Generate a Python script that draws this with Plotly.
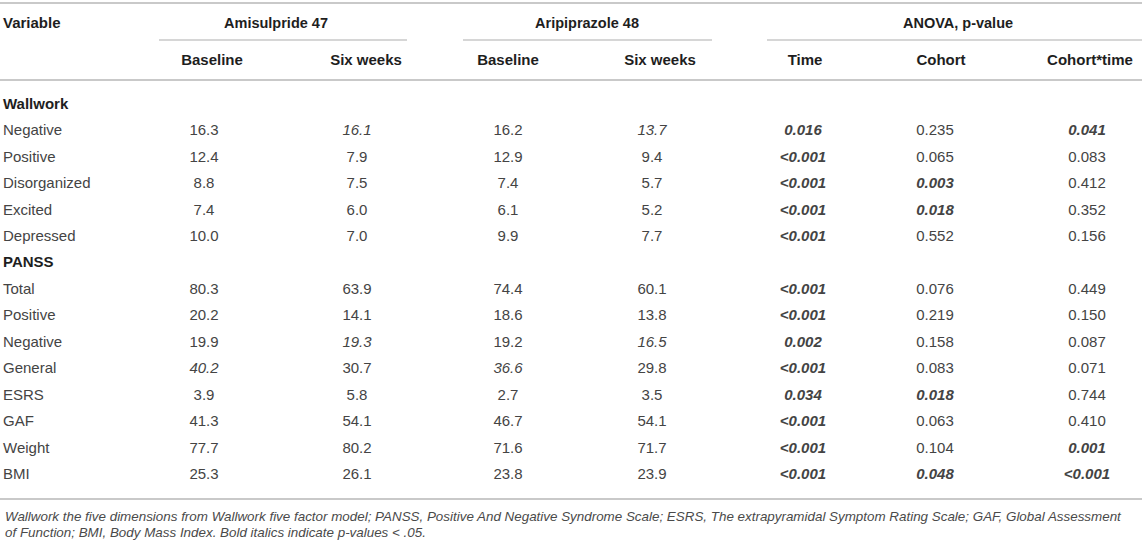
import plotly.graph_objects as go

# Table content
row_labels = ["Wallwork", "Negative", "Positive", "Disorganized", "Excited", "Depressed",
              "PANSS", "Total", "Positive", "Negative", "General", "ESRS", "GAF", "Weight", "BMI"]
section_rows = [0, 6]  # bold group rows with no values

amisulpride_baseline = [None, 16.3, 12.4, 8.8, 7.4, 10.0, None, 80.3, 20.2, 19.9, 40.2, 3.9, 41.3, 77.7, 25.3]
amisulpride_six_weeks = [None, 16.1, 7.9, 7.5, 6.0, 7.0, None, 63.9, 14.1, 19.3, 30.7, 5.8, 54.1, 80.2, 26.1]
aripiprazole_baseline = [None, 16.2, 12.9, 7.4, 6.1, 9.9, None, 74.4, 18.6, 19.2, 36.6, 2.7, 46.7, 71.6, 23.8]
aripiprazole_six_weeks = [None, 13.7, 9.4, 5.7, 5.2, 7.7, None, 60.1, 13.8, 16.5, 29.8, 3.5, 54.1, 71.7, 23.9]

p_time = [None, "0.016", "<0.001", "<0.001", "<0.001", "<0.001", None,
          "<0.001", "<0.001", "0.002", "<0.001", "0.034", "<0.001", "<0.001", "<0.001"]
p_cohort = [None, "0.235", "0.065", "0.003", "0.018", "0.552", None,
            "0.076", "0.219", "0.158", "0.083", "0.018", "0.063", "0.104", "0.048"]
p_cohort_time = [None, "0.041", "0.083", "0.412", "0.352", "0.156", None,
                 "0.449", "0.150", "0.087", "0.071", "0.744", "0.410", "0.001", "<0.001"]

# (row, mean column) pairs printed in italics in the source table
italic_means = {(1, 1), (1, 3), (9, 1), (9, 3), (10, 0), (10, 2)}

group_headers = ["Amisulpride 47", "Aripiprazole 48", "ANOVA, p-value"]
sub_headers = ["Baseline", "Six weeks", "Baseline", "Six weeks", "Time", "Cohort", "Cohort*time"]
footnote = ["Wallwork the five dimensions from Wallwork five factor model; PANSS, Positive And Negative "
            "Syndrome Scale; ESRS, The extrapyramidal Symptom Rating Scale; GAF, Global Assessment",
            "of Function; BMI, Body Mass Index. Bold italics indicate p-values &lt; .05."]

# Layout (pixel coordinates of the page)
W, H = 1142, 542
FONT = "Liberation Sans, Arial, sans-serif"
DATA_COLOR = "#444444"
HEAD_COLOR = "#1e1e1e"
RULE_COLOR = "#c9c9c9"
row_y0, row_step = 105, 26.45
row_y = [row_y0 + i * row_step for i in range(len(row_labels))]
data_x = [204, 357, 508, 652, 803, 935, 1087]
head_x = [212, 366, 508, 660, 805, 941, 1090]
group_x = [276, 587, 958]
group_spans = [(159, 407), (463, 712), (767, W)]


def fmt_mean(v, r, c):
    if v is None:
        return ""
    s = f"{v:.1f}"
    return f"<i>{s}</i>" if (r, c) in italic_means else s


def fmt_p(p):
    if p is None:
        return ""
    val = 0.0 if p.startswith("<") else float(p)
    s = p.replace("<", "&lt;")
    return f"<b><i>{s}</i></b>" if val < 0.05 else s


fig = go.Figure()

# Row labels
labels = [f"<b>{t}</b>" if i in section_rows else t for i, t in enumerate(row_labels)]
label_colors = [HEAD_COLOR if i in section_rows else DATA_COLOR for i in range(len(row_labels))]
fig.add_trace(go.Scatter(
    x=[3] * len(labels), y=row_y, text=labels, mode="text", textposition="middle right",
    textfont=dict(family=FONT, size=15, color=label_colors), hoverinfo="skip"))

mean_cols = [amisulpride_baseline, amisulpride_six_weeks, aripiprazole_baseline, aripiprazole_six_weeks]
p_cols = [p_time, p_cohort, p_cohort_time]

for c, col in enumerate(mean_cols):
    fig.add_trace(go.Scatter(
        x=[data_x[c]] * len(col), y=row_y, text=[fmt_mean(v, r, c) for r, v in enumerate(col)],
        mode="text", textposition="middle center",
        textfont=dict(family=FONT, size=15, color=DATA_COLOR), hoverinfo="skip"))

for k, col in enumerate(p_cols):
    fig.add_trace(go.Scatter(
        x=[data_x[4 + k]] * len(col), y=row_y, text=[fmt_p(p) for p in col],
        mode="text", textposition="middle center",
        textfont=dict(family=FONT, size=15, color=DATA_COLOR), hoverinfo="skip"))

# Headers
fig.add_trace(go.Scatter(
    x=[3], y=[24.5], text=["<b>Variable</b>"], mode="text", textposition="middle right",
    textfont=dict(family=FONT, size=15, color=HEAD_COLOR), hoverinfo="skip"))
fig.add_trace(go.Scatter(
    x=group_x, y=[24.5] * len(group_x), text=[f"<b>{t}</b>" for t in group_headers],
    mode="text", textposition="middle center",
    textfont=dict(family=FONT, size=14.5, color=HEAD_COLOR), hoverinfo="skip"))
fig.add_trace(go.Scatter(
    x=head_x, y=[61] * len(head_x), text=[f"<b>{t}</b>" for t in sub_headers],
    mode="text", textposition="middle center",
    textfont=dict(family=FONT, size=15, color=HEAD_COLOR), hoverinfo="skip"))

# Rules
shapes = [
    dict(type="line", x0=0, x1=W, y0=3, y1=3, line=dict(color=RULE_COLOR, width=2)),
    dict(type="line", x0=0, x1=W, y0=80, y1=80, line=dict(color=RULE_COLOR, width=2)),
    dict(type="line", x0=0, x1=W, y0=499, y1=499, line=dict(color=RULE_COLOR, width=2)),
]
for x0, x1 in group_spans:
    shapes.append(dict(type="line", x0=x0, x1=x1, y0=40, y1=40, line=dict(color=RULE_COLOR, width=1.5)))
for s in shapes:
    s.update(xref="x", yref="y", layer="below")

# Footnote
annotations = [
    dict(x=3, y=y, xref="x", yref="y", text=f"<i>{t}</i>", showarrow=False,
         xanchor="left", yanchor="middle",
         font=dict(family=FONT, size=13.4, color="#4a4a4a"))
    for t, y in zip(footnote, [516, 532])
]

fig.update_layout(
    width=W, height=H,
    margin=dict(l=0, r=0, t=0, b=0),
    paper_bgcolor="white", plot_bgcolor="white",
    showlegend=False,
    xaxis=dict(range=[0, W], visible=False, fixedrange=True),
    yaxis=dict(range=[H, 0], visible=False, fixedrange=True),
    shapes=shapes,
    annotations=annotations,
)

# the page's default body margin would shift the fixed-size figure
fig.write_html("out.html", config={"displayModeBar": False},
               post_script="document.body.style.margin='0';document.body.style.overflow='hidden';")
